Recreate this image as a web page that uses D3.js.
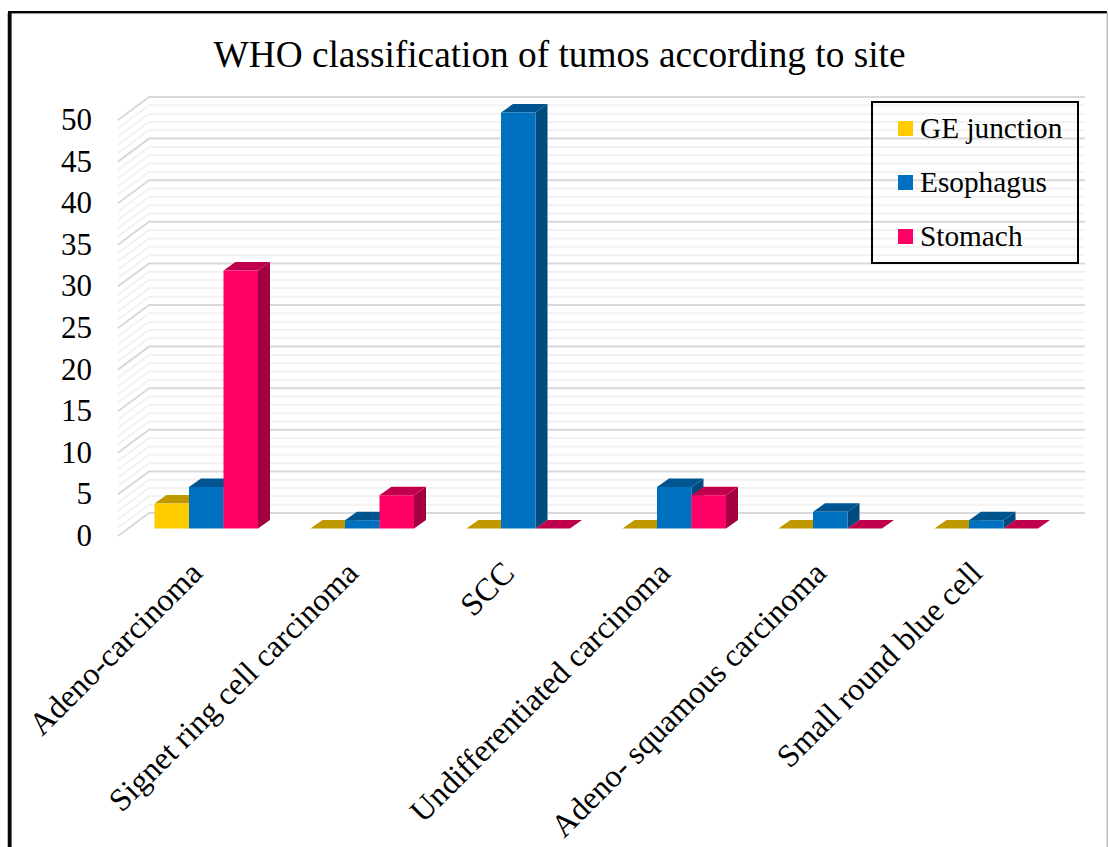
<!DOCTYPE html>
<html>
<head>
<meta charset="utf-8">
<script src="https://cdn.jsdelivr.net/npm/d3@7/dist/d3.min.js"></script>
<style>
  html, body { margin: 0; padding: 0; background: #fff; }
  svg { display: block; }
  text { font-family: "Liberation Serif", "Times New Roman", serif; fill: #000; }
</style>
</head>
<body>
<svg id="chart" width="1108" height="847"></svg>
<script>
const categories = [
  "Adeno-carcinoma",
  "Signet ring cell carcinoma",
  "SCC",
  "Undifferentiated carcinoma",
  "Adeno- squamous carcinoma",
  "Small round blue cell"
];
const seriesNames = ["GE junction", "Esophagus", "Stomach"];
const geJunction = [3, 0, 0, 0, 0, 0];
const esophagus = [5, 1, 50, 5, 2, 1];
const stomach = [31, 4, 0, 4, 0, 0];
const seriesValues = [geJunction, esophagus, stomach];
const frontColors = ["#FFCC00", "#0070C0", "#FF0066"];
const topColors = ["#C09900", "#005591", "#C0004D"];
const sideColors = ["#A88600", "#004A7E", "#A30041"];
const axisTicks = [0, 5, 10, 15, 20, 25, 30, 35, 40, 45, 50];

const svg = d3.select("#chart");

// Oblique projection: the floor recedes up and to the right.
const barDepth = { dx: 12, dy: -8.5 };
const wallOffset = { dx: 31, dy: -23 };
const unit = 8.32;

const yFront = d3.scaleLinear().domain([0, 50]).range([536, 536 - 50 * unit]);
const yWall = d3.scaleLinear().domain([0, 50]).range([513, 513 - 50 * unit]);
const yBar = d3.scaleLinear().domain([0, 50]).range([528.5, 528.5 - 50 * unit]);

const xGroup = d3.scaleBand().domain(categories).range([128, 1064]);
const xSeries = d3.scaleBand().domain(d3.range(3)).range([26.5, 130]);

// Outer frame
svg.append("rect").attr("x", 7).attr("y", 13).attr("width", 1).attr("height", 834).attr("fill", "#bbb");
svg.append("rect").attr("x", 8).attr("y", 11).attr("width", 1099).attr("height", 2.4).attr("fill", "#000");
svg.append("rect").attr("x", 8).attr("y", 11).attr("width", 3.6).attr("height", 836).attr("fill", "#0a0a0a");
svg.append("rect").attr("x", 1106.6).attr("y", 12).attr("width", 1).attr("height", 835).attr("fill", "#999");

// Back wall and left side gridlines, one per unit with stronger lines every five
const wallLeft = 149, wallRight = 1085;
const gridValues = yWall.ticks(50);
svg.append("g").attr("fill", "none")
  .selectAll("path").data(gridValues).join("path")
  .attr("d", d => d3.line()([
    [wallLeft - wallOffset.dx, yFront(d)],
    [wallLeft, yWall(d)],
    [wallRight, yWall(d)]
  ]))
  .attr("stroke", d => d % 5 === 0 ? "#d9d9d9" : "#f2f2f2")
  .attr("stroke-width", 2);

// Bars: front, top and side faces, drawn left to right so later faces overlap
const bars = svg.append("g");
categories.forEach((cat, c) => {
  seriesValues.forEach((vals, s) => {
    const v = vals[c];
    const x0 = xGroup(cat) + xSeries(s);
    const x1 = x0 + xSeries.bandwidth();
    const yb = yBar(0), yt = yBar(v);
    const { dx, dy } = barDepth;
    const poly = pts => d3.line()(pts) + "Z";
    bars.append("path").attr("fill", sideColors[s])
      .attr("d", poly([[x1, yb], [x1 + dx, yb + dy], [x1 + dx, yt + dy], [x1, yt]]));
    bars.append("path").attr("fill", topColors[s])
      .attr("d", poly([[x0, yt], [x0 + dx, yt + dy], [x1 + dx, yt + dy], [x1, yt]]));
    if (v > 0) {
      bars.append("rect").attr("fill", frontColors[s])
        .attr("x", x0).attr("y", yt).attr("width", x1 - x0).attr("height", yb - yt);
    }
  });
});

// Value axis labels
const yAxis = d3.axisLeft(yFront).tickValues(axisTicks).tickSize(0).tickPadding(0);
const yAxisG = svg.append("g").attr("transform", "translate(92,-0.5)").call(yAxis);
yAxisG.select(".domain").remove();
yAxisG.selectAll("text").attr("font-size", 31).style("font-family", '"Liberation Serif", serif').attr("fill", "#000");

// Category labels, rotated
svg.append("g").selectAll("text").data(categories).join("text")
  .attr("text-anchor", "end")
  .attr("font-size", 32)
  .attr("transform", d => `translate(${xGroup(d) + xGroup.bandwidth() / 2 - 2},575) rotate(-45)`)
  .text(d => d);

// Title
svg.append("text").attr("x", 559.5).attr("y", 67).attr("text-anchor", "middle")
  .attr("font-size", 37.3).text("WHO classification of tumos according to site");

// Legend box and entries
svg.append("rect").attr("x", 872).attr("y", 102).attr("width", 206).attr("height", 161)
  .attr("fill", "none").attr("stroke", "#000").attr("stroke-width", 2);
const legendY = d3.scalePoint().domain(seriesNames).range([128.5, 236.5]);
const legend = svg.append("g").selectAll("g").data(seriesNames).join("g")
  .attr("transform", d => `translate(0,${legendY(d)})`);
legend.append("rect").attr("x", 898).attr("y", -7.5).attr("width", 15).attr("height", 15)
  .attr("fill", (d, i) => frontColors[i]);
legend.append("text").attr("x", 920).attr("y", 9).attr("font-size", 29.3).text(d => d);
</script>
</body>
</html>
